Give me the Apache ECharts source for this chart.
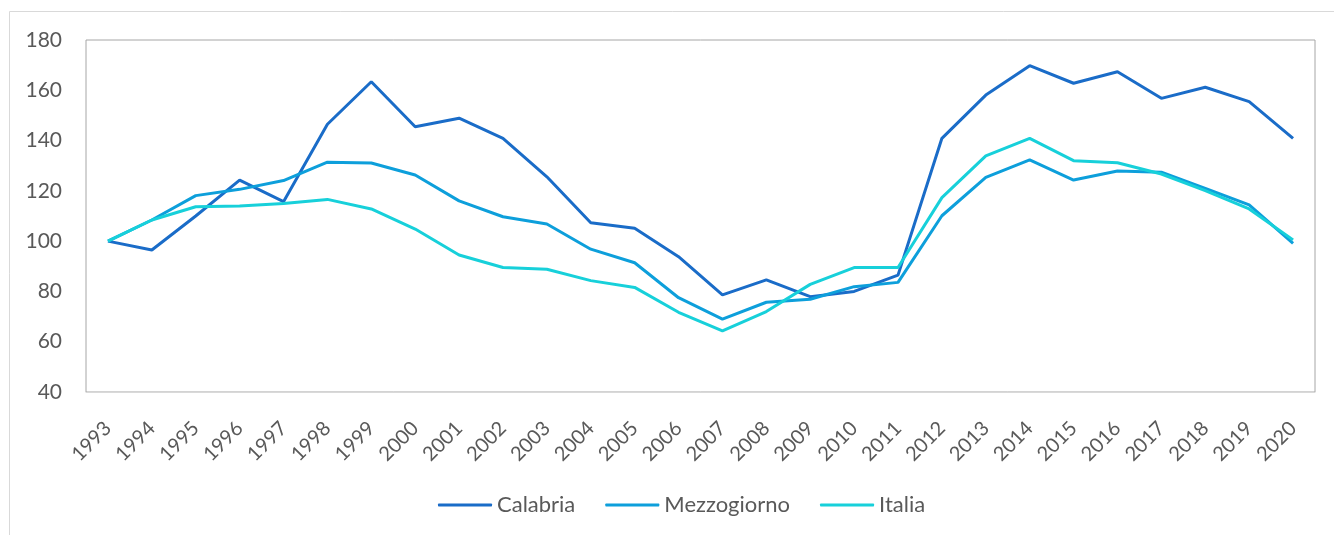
<!DOCTYPE html>
<html>
<head>
<meta charset="utf-8">
<script src="https://cdn.jsdelivr.net/npm/echarts@6/dist/echarts.min.js"></script>
<style>
html,body{margin:0;padding:0;background:#fff;}
#chart{width:1334px;height:535px;}
</style>
</head>
<body>
<div id="chart"></div>
<script>
const years = ['1993','1994','1995','1996','1997','1998','1999','2000','2001','2002','2003','2004','2005','2006','2007','2008','2009','2010','2011','2012','2013','2014','2015','2016','2017','2018','2019','2020'];
const calabria = [100,96.5,110,124.3,115.7,146.5,163.4,145.5,148.9,140.9,125.6,107.3,105.1,93.8,78.6,84.6,77.9,80.0,86.5,140.9,158.1,169.8,162.8,167.4,156.8,161.2,155.5,140.9];
const mezzogiorno = [100,108.4,118.1,120.6,124.1,131.4,131.1,126.3,116.0,109.7,106.8,96.8,91.4,77.5,69.0,75.7,76.9,81.9,83.6,110.1,125.4,132.3,124.3,127.9,127.4,121.0,114.4,99.1];
const italia = [100,108.4,113.7,114.0,115.0,116.6,112.8,104.8,94.5,89.5,88.8,84.3,81.6,71.7,64.3,72.0,82.8,89.5,89.5,117.3,133.9,140.9,132.0,131.2,126.7,120.1,112.8,100.5];
const seriesNames = ['Calabria','Mezzogiorno','Italia'];
const colors = ['#1a6cc8','#0d9fdb','#17d0da'];

const chart = echarts.init(document.getElementById('chart'));
const font = 'Lato, "Open Sans", sans-serif';
chart.setOption({
  animation: false,
  textStyle: {fontFamily: font},
  graphic: [{
    type: 'rect', shape: {x: 9.5, y: 11.5, width: 1400, height: 600},
    style: {fill: 'none', stroke: '#d9d9d9', lineWidth: 1}, silent: true
  }],
  grid: {left: 86, right: 19, top: 40, bottom: 143, show: true, borderColor: '#a6a6a6', borderWidth: 1},
  legend: {
    top: 489, left: 433, itemWidth: 54, itemHeight: 3, itemGap: 30,
    icon: 'roundRect',
    textStyle: {fontFamily: font, fontSize: 22, color: '#595959'},
    data: seriesNames
  },
  xAxis: {
    type: 'category', data: years, boundaryGap: true,
    axisLine: {lineStyle: {color: '#d9d9d9', width: 1}},
    axisTick: {show: false},
    axisLabel: {rotate: 45, fontFamily: font, fontSize: 20, color: '#595959', margin: 33, interval: 0}
  },
  yAxis: {
    type: 'value', min: 40, max: 180, interval: 20,
    splitLine: {show: false},
    axisLine: {show: false}, axisTick: {show: false},
    axisLabel: {fontFamily: font, fontSize: 21, color: '#595959', margin: 24}
  },
  series: [
    {name: seriesNames[0], type: 'line', data: calabria, color: colors[0], symbol: 'none', lineStyle: {width: 3, color: colors[0]}},
    {name: seriesNames[1], type: 'line', data: mezzogiorno, color: colors[1], symbol: 'none', lineStyle: {width: 3, color: colors[1]}},
    {name: seriesNames[2], type: 'line', data: italia, color: colors[2], symbol: 'none', lineStyle: {width: 3, color: colors[2]}}
  ]
});
</script>
</body>
</html>
